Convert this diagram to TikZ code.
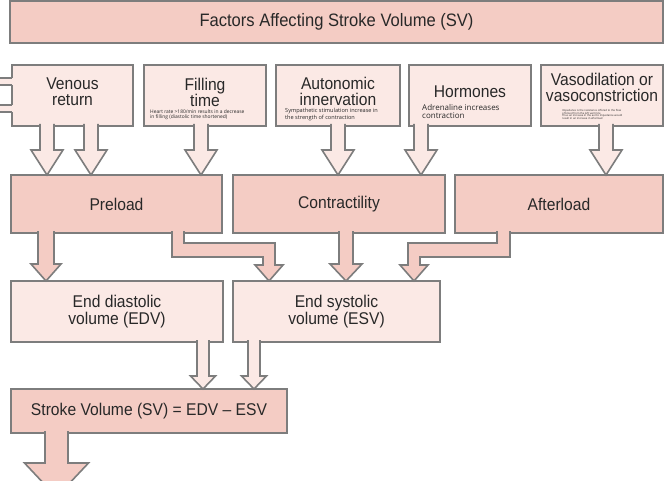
\documentclass[tikz,border=0pt]{standalone}
\usepackage{fontspec}
\setmainfont{Liberation Sans}[FakeStretch=0.92]
\newfontfamily\notefont{Open Sans}
\usetikzlibrary{calc}

\definecolor{darkfill}{RGB}{244,204,196}
\definecolor{lightfill}{RGB}{251,233,229}
\definecolor{edgegray}{RGB}{125,125,125}
\definecolor{inkgray}{RGB}{40,40,40}

% hollow block arrow: [fill] x, from, to, stem half, head half, head length
\newcommand{\droparrow}[7][lightfill]{%
  \filldraw[blockline, fill=#1] let \p1=(#3), \p2=(#4) in
    (#2pt-#5pt,\y1+2pt) -- (#2pt-#5pt,\y2+#7pt) -- (#2pt-#6pt,\y2+#7pt)
    -- (#2pt,\y2) -- (#2pt+#6pt,\y2+#7pt) -- (#2pt+#5pt,\y2+#7pt)
    -- (#2pt+#5pt,\y1+2pt);}

\begin{document}
\begin{tikzpicture}[
  x=1pt, y=-1pt,
  darkbox/.style={draw=edgegray, fill=darkfill, line width=1.6pt, inner sep=0pt,
    outer sep=0pt, anchor=north west, text=inkgray, align=center,
    font=\fontsize{17}{17}\selectfont},
  lightbox/.style={darkbox, fill=lightfill},
  blockline/.style={draw=edgegray, line width=1.6pt, line join=miter},
  heading/.style={text=inkgray, align=center, inner sep=0pt,
    font=\fontsize{17}{16}\selectfont},
  note/.style={text=inkgray, align=left, inner sep=0pt, anchor=north west}
]
\useasboundingbox (0,0) rectangle (666,481);
\fill[white] (0,0) rectangle (666,481);
\clip (0,0) rectangle (666,481);

% title
\node[darkbox, minimum width=653pt, minimum height=42pt,
  font=\fontsize{18}{20}\selectfont] (title) at (10,1) {Factors Affecting Stroke Volume (SV)};

% factors
\node[lightbox, minimum width=121pt, minimum height=61pt] (venous) at (12,65) {};
\node[lightbox, minimum width=122pt, minimum height=61pt] (filling) at (144,65) {};
\node[lightbox, minimum width=124pt, minimum height=61pt] (autonomic) at (276,65) {};
\node[lightbox, minimum width=122pt, minimum height=61pt] (hormones) at (409,65) {};
\node[lightbox, minimum width=122pt, minimum height=61pt] (vaso) at (541,65) {};
\fill[lightfill] (0,78) rectangle (13,85);
\fill[lightfill] (0,105) rectangle (13,112);
\draw[blockline] (0,78) -- (12,78) (0,85) -- (12,85) (0,105) -- (12,105) (0,112) -- (12,112);

% loads
\node[darkbox, minimum width=211pt, minimum height=58pt] (preload) at (11,175) {Preload};
\node[darkbox, minimum width=212pt, minimum height=58pt] (contractility) at (233,175) {Contractility};
\node[darkbox, minimum width=208pt, minimum height=58pt] (afterload) at (455,175) {Afterload};

% volumes
\node[lightbox, minimum width=212pt, minimum height=61pt] (edv) at (11,281) {End diastolic\\volume (EDV)};
\node[lightbox, minimum width=207pt, minimum height=61pt] (esv) at (233,281) {End systolic\\volume (ESV)};
\node[darkbox, minimum width=276pt, minimum height=44pt] (sv) at (11,389) {Stroke Volume (SV) = EDV -- ESV};
\coordinate (svout) at (56.5,497);

% arrows
\droparrow{47}{venous.south}{preload.north}{7}{16}{25}
\droparrow{91}{venous.south}{preload.north}{7}{16}{25}
\droparrow{201}{filling.south}{preload.north}{7}{16}{25}
\droparrow{338}{autonomic.south}{contractility.north}{7}{16}{25}
\droparrow{421}{hormones.south}{contractility.north}{7}{16}{25}
\droparrow{606}{vaso.south}{afterload.north}{7}{16}{25}

\droparrow[darkfill]{46}{preload.south}{edv.north}{8}{15}{17}
\droparrow[darkfill]{346}{contractility.south}{esv.north}{7}{16}{17}
\filldraw[blockline, fill=darkfill] let \p1=(preload.south), \p2=(esv.north) in
  (172pt,\y1+2pt) -- (172pt,-257pt) -- (263pt,-257pt) -- (263pt,\y2+16pt)
  -- (255pt,\y2+16pt) -- (269pt,\y2) -- (283pt,\y2+16pt) -- (275pt,\y2+16pt)
  -- (275pt,-243pt) -- (184pt,-243pt) -- (184pt,\y1+2pt);
\filldraw[blockline, fill=darkfill] let \p1=(afterload.south), \p2=(esv.north) in
  (497pt,\y1+2pt) -- (497pt,-243pt) -- (408pt,-243pt) -- (408pt,\y2+16pt)
  -- (400pt,\y2+16pt) -- (414pt,\y2) -- (428pt,\y2+16pt) -- (420pt,\y2+16pt)
  -- (420pt,-257pt) -- (510pt,-257pt) -- (510pt,\y1+2pt);

\droparrow{203}{edv.south}{sv.north}{6}{12.5}{13}
\droparrow{254}{esv.south}{sv.north}{6}{12.5}{13}
\droparrow[darkfill]{56.5}{sv.south}{svout}{11.5}{32}{34}

% factor texts
\node[heading] (venoustxt) at (72.5,92) {Venous\\return};
\node[heading] (fillingtxt) at (205,92) {Filling\\time};
\node[heading] (autonomictxt) at (338,91) {Autonomic\\innervation};
\node[heading] (hormonestxt) at (470,92) {Hormones};
\node[heading] (vasotxt) at (602,87) {Vasodilation or\\vasoconstriction};

\node[note, font={\notefont\fontsize{4.9}{4.8}\selectfont}] (fillingnote) at (150,110)
  {Heart rate >180/min results in a decrease\\in filling (diastolic time shortened)};
\node[note, font={\notefont\fontsize{5.6}{6.8}\selectfont}] (autonomicnote) at (285,108)
  {Sympathetic stimulation increase in\\the strength of contraction};
\node[note, font={\notefont\fontsize{8}{8.5}\selectfont}] (hormonesnote) at (422,104)
  {Adrenaline increases\\contraction};
\node[note, font={\notefont\fontsize{2.7}{2.8}\selectfont}] (vasonote) at (562,109)
  {Impedance is the resistance offered to the flow\\of blood from the left ventricle\\Thus an increase in the aortic impedance would\\result in an increase in afterload};
\end{tikzpicture}
\end{document}
